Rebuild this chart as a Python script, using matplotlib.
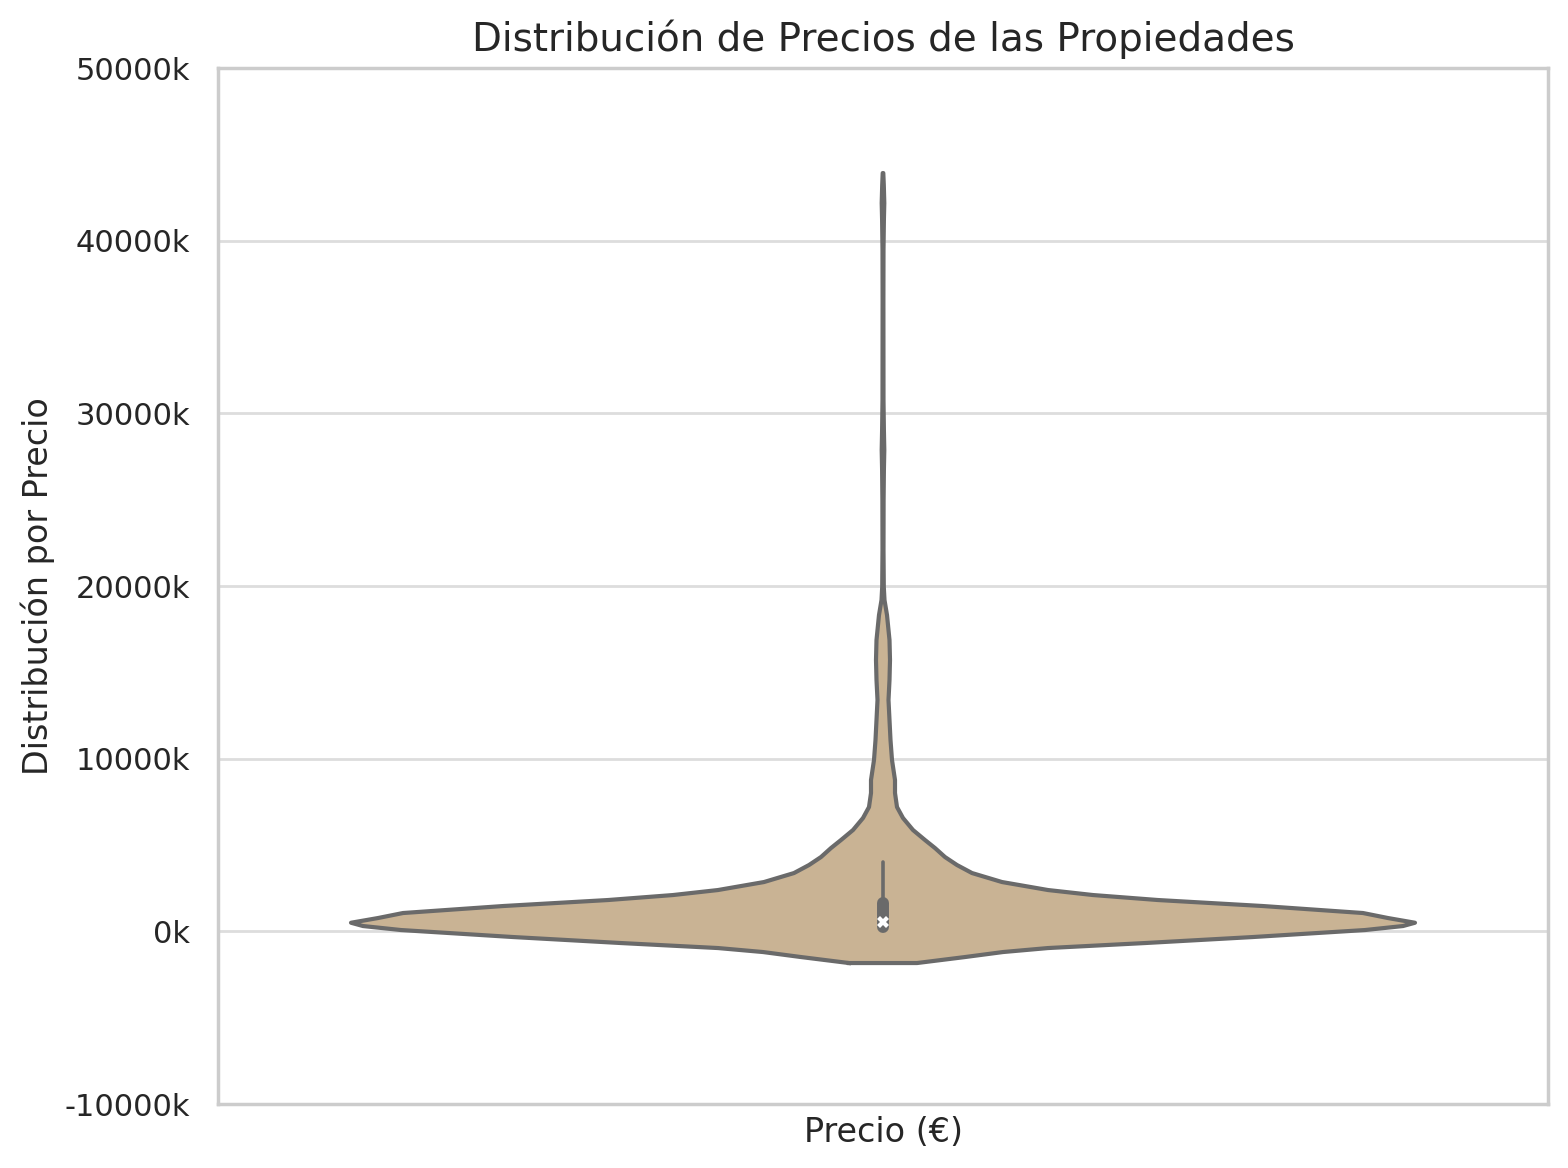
import matplotlib
matplotlib.use("Agg")
import matplotlib.pyplot as plt
from matplotlib.ticker import FuncFormatter, MultipleLocator
import numpy as np

# ---- data (prices in thousands of euros) ----
precio_k = [-1836, -1489, -1199, -968, -678, -330, 75, 307, 498, 770, 1060,
            1465, 1813, 2102, 2392, 2855, 3376, 3840, 4303, 4824, 5288, 5867,
            6562, 7199, 8010, 8763, 9921, 11080, 13396, 14554, 15712, 16870,
            18318, 19187, 19940, 22082, 24978, 26715, 27873, 29031, 30769,
            36560, 39456, 41193, 42178, 43220, 43915]
densidad = [34, 82, 120, 165, 262, 370, 482, 520, 532, 505, 480,
            380, 275, 210, 165, 119, 89, 74, 62, 52, 42, 30,
            20, 14, 12, 12, 9, 7.5, 5.5, 6.5, 7, 6.5,
            4, 1.5, 0.8, 0.5, 0.6, 0.9, 1.3, 0.9, 0.5,
            0.4, 0.5, 0.9, 1.3, 0.8, 0.3]
categoria = "Precio (€)"
q1_k, mediana_k, q3_k = 250, 520, 1645
bigote_inf_k, bigote_sup_k = 60, 4013
yticks_k = [-10000, 0, 10000, 20000, 30000, 40000, 50000]

# ---- figure ----
text_color = "#262626"
plt.rcParams["font.family"] = ["DejaVu Sans"]
fig = plt.figure(figsize=(7.84, 5.84), dpi=200)
ax = fig.add_axes([218 / 1568, 1 - 1104 / 1168, 1330 / 1568, 1036 / 1168])

y = np.array(precio_k) * 1000.0
d = np.array(densidad, dtype=float)
hw = 0.4 * d / d.max()

ax.fill_betweenx(y, -hw, hw, facecolor="#C9B394", edgecolor="none", zorder=2)
ax.plot(np.concatenate([-hw, hw[::-1], [-hw[0]]]),
        np.concatenate([y, y[::-1], [y[0]]]),
        color="#6a6a6a", lw=1.5, zorder=3, solid_joinstyle="round")

# inner box
ax.plot([0, 0], [bigote_inf_k * 1000, bigote_sup_k * 1000], color="#6a6a6a",
        lw=1.3, solid_capstyle="round", zorder=4)
ax.plot([0, 0], [q1_k * 1000, q3_k * 1000], color="#6a6a6a",
        lw=4.3, solid_capstyle="round", zorder=5)
ax.plot([0], [mediana_k * 1000], marker="X", color="white", ms=4.2,
        markeredgewidth=0, zorder=6)

ax.set_xlim(-0.5, 0.5)
ax.set_ylim(yticks_k[0] * 1000, yticks_k[-1] * 1000)
ax.yaxis.set_major_locator(MultipleLocator(10000 * 1000))
ax.yaxis.set_major_formatter(FuncFormatter(lambda v, p: f"{int(round(v / 1000))}k"))
ax.set_xticks([0])
ax.set_xticklabels([categoria], fontsize=12, color=text_color)
ax.tick_params(axis="y", length=0, pad=10, labelsize=11, labelcolor=text_color)
ax.tick_params(axis="x", length=0, pad=4.5)

ax.grid(axis="y", color="#dddddd", lw=1.0, zorder=0)
ax.set_axisbelow(True)
for s in ax.spines.values():
    s.set_color("#cccccc")
    s.set_linewidth(1.25)

ax.set_ylabel("Distribución por Precio", fontsize=12, color=text_color, labelpad=3.5)
ax.set_title("Distribución de Precios de las Propiedades", fontsize=14,
             color=text_color, pad=6.2)

fig.savefig("out.png", dpi=200)
